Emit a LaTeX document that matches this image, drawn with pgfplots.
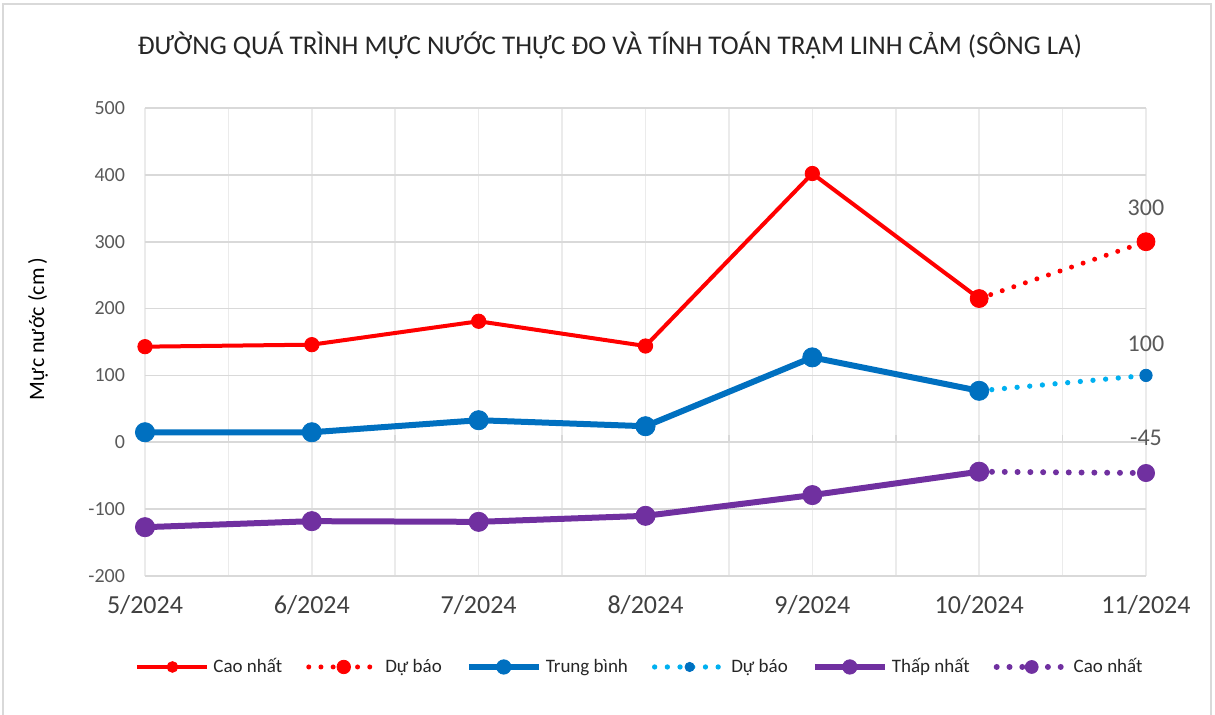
\documentclass[border=0pt]{standalone}
\usepackage{fontspec}
\setmainfont{Carlito}
\usepackage{pgfplots}
\pgfplotsset{compat=1.18}
\definecolor{cRed}{HTML}{FF0000}
\definecolor{cBlue}{HTML}{0070C0}
\definecolor{cLBlue}{HTML}{00B0F0}
\definecolor{cPurple}{HTML}{7030A0}
\definecolor{gridH}{HTML}{D9D9D9}
\definecolor{gridV}{HTML}{EBEBEB}
\definecolor{tickc}{HTML}{595959}
\definecolor{xtickc}{HTML}{404040}
\begin{document}
\begin{tikzpicture}
\useasboundingbox (0,0) rectangle (607.5pt,357.5pt);
\draw[gridH, line width=0.8pt] (1.5pt,0) -- (1.5pt,355.5pt) -- (605.5pt,355.5pt) -- (605.5pt,0);
\begin{axis}[
  at={(72.5pt,69.5pt)}, anchor=south west,
  scale only axis, width=500.5pt, height=234pt,
  xmin=0, xmax=6, ymin=-200, ymax=500,
  clip=false,
  axis line style={draw=none},
  major tick length=0pt, minor tick length=0pt,
  xtick={0,...,6},
  xticklabels={5/2024,6/2024,7/2024,8/2024,9/2024,10/2024,11/2024},
  minor xtick={0.5,1.5,...,5.5},
  ytick={-200,-100,...,500},
  yticklabels={-200,-100,0,100,200,300,400,500},
  xmajorgrids, xminorgrids, ymajorgrids,
  major grid style={gridH, line width=0.8pt},
  minor grid style={gridV, line width=0.8pt},
  x grid style={gridV, line width=0.8pt},
  xticklabel style={font=\fontsize{13}{15}\selectfont, text=xtickc, yshift=-6pt},
  yticklabel style={font=\fontsize{10}{12}\selectfont, text=tickc, xshift=-6.5pt},
  title={ĐƯỜNG QUÁ TRÌNH MỰC NƯỚC THỰC ĐO VÀ TÍNH TOÁN TRẠM LINH CẢM (SÔNG LA)},
  title style={at={(axis description cs:0.4645,1.109)}, anchor=center, font=\fontsize{13.5}{15}\selectfont, text=black!85},
  ylabel={Mực nước (cm\,)},
  ylabel style={at={(axis description cs:-0.1069,0.5278)}, anchor=center, font=\fontsize{11}{13}\selectfont, text=black},
  legend columns=6,
  legend style={at={(axis description cs:0.4955,-0.1944)}, anchor=center, draw=none, fill=none,
    font=\fontsize{9.5}{11}\selectfont, text=black!85,
    /tikz/every even column/.append style={column sep=10pt}},
  legend image code/.code={\draw[#1, every mark/.append style={scale=0.75}, mark repeat=2, mark phase=2] plot coordinates {(0pt,0pt)(17.5pt,0pt)(35pt,0pt)};},
]
\pgfplotsinvokeforeach{0,0.5,1,1.5,2,2.5,3,3.5,4,4.5,5,5.5,6}{
  \draw[gridH, line width=0.8pt] (axis cs:#1,0) -- ([yshift=3.5pt]axis cs:#1,0);
}
\addplot[cRed, line width=2pt, mark=*, mark size=3.6pt, mark options={solid, line width=0.4pt}]
  coordinates {(0,143)(1,146)(2,181)(3,144)(4,402)(5,215)};
\addlegendentry{Cao nhất}
\addplot[cRed, line width=2.5pt, dash pattern=on 0pt off 6.1pt, line cap=round,
  mark=*, mark size=4.5pt, mark options={solid, line width=0.4pt},
  nodes near coords, point meta=explicit symbolic,
  nodes near coords style={anchor=center, yshift=17pt, font=\fontsize{12}{14}\selectfont, text=tickc}]
  coordinates {(5,215)[] (6,300)[300]};
\addlegendentry{Dự báo}
\addplot[cBlue, line width=3pt, mark=*, mark size=4.8pt, mark options={solid, line width=0.4pt}]
  coordinates {(0,15)(1,15)(2,33)(3,24)(4,127)(5,77)};
\addlegendentry{Trung bình}
\addplot[cLBlue, line width=2.65pt, dash pattern=on 0pt off 6.35pt, line cap=round,
  mark=*, mark size=3.1pt, mark options={solid, line width=0.4pt, draw=cBlue, fill=cBlue},
  nodes near coords, point meta=explicit symbolic,
  nodes near coords style={anchor=center, yshift=16pt, font=\fontsize{12}{14}\selectfont, text=tickc}]
  coordinates {(5,77)[] (6,100)[100]};
\addlegendentry{Dự báo}
\addplot[cPurple, line width=3pt, mark=*, mark size=4.8pt, mark options={solid, line width=0.4pt}]
  coordinates {(0,-127)(1,-118)(2,-119)(3,-110)(4,-79)(5,-44)};
\addlegendentry{Thấp nhất}
\addplot[cPurple, line width=3pt, dash pattern=on 0pt off 6.4pt, line cap=round,
  mark=*, mark size=4.3pt, mark options={solid, line width=0.4pt},
  nodes near coords, point meta=explicit symbolic,
  nodes near coords style={anchor=center, yshift=17.5pt, font=\fontsize{12}{14}\selectfont, text=tickc}]
  coordinates {(5,-44)[] (6,-46)[-45]};
\addlegendentry{Cao nhất}
\end{axis}
\end{tikzpicture}
\end{document}
